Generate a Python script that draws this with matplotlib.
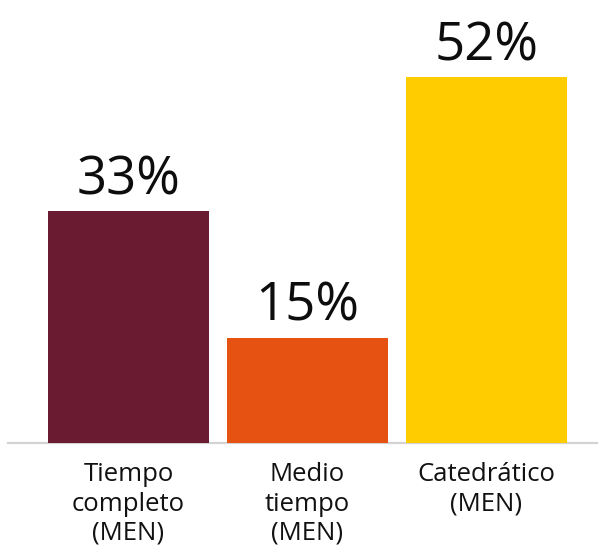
import matplotlib.pyplot as plt

categories = ["Tiempo\ncompleto\n(MEN)", "Medio\ntiempo\n(MEN)", "Catedrático\n(MEN)"]
values = [33, 15, 52]
colors = ["#6A1B31", "#E65212", "#FFCC00"]

plt.rcParams['font.family'] = ['Open Sans', 'DejaVu Sans']

fig = plt.figure(figsize=(5.98, 5.5), dpi=100)
ax = fig.add_axes([8 / 598, 107 / 550, 590 / 598, 443 / 550])

x = range(len(values))
bars = ax.bar(x, values, width=0.9, color=colors, zorder=2)

for b, v in zip(bars, values):
    ax.annotate(f"{v}%", (b.get_x() + b.get_width() / 2, v),
                xytext=(0, 12), textcoords="offset points",
                ha="center", va="baseline", fontsize=38, color="#0d0d0d")

ax.set_xlim(-0.673, 2.623)
ax.set_ylim(0, 63)

ax.set_xticks(list(x))
ax.set_xticklabels(categories, fontsize=18.5, color="#111111", linespacing=1.22)
ax.tick_params(axis="x", length=0, pad=14)
ax.set_yticks([])

for side in ["top", "left", "right"]:
    ax.spines[side].set_visible(False)
ax.spines["bottom"].set_color("#d3d3d3")
ax.spines["bottom"].set_linewidth(1.6)
ax.spines["bottom"].set_zorder(1)

fig.savefig("out.png", dpi=100)
